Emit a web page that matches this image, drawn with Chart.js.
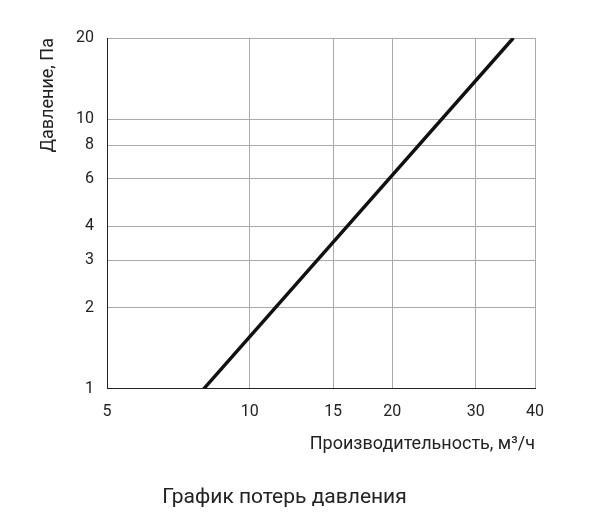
<!DOCTYPE html>
<html>
<head>
<meta charset="utf-8">
<script src="https://cdn.jsdelivr.net/npm/chart.js@4"></script>
<style>
  body { margin: 0; background: #fff; }
  #wrap { width: 595px; height: 526px; }
</style>
</head>
<body>
<div id="wrap"><canvas id="chart" width="595" height="526"></canvas></div>
<script>
// flow (m3/h) vs pressure loss (Pa)
const flow = [8, 20, 36];
const pressure = [1, 6.2, 20];
const xTicks = [5, 10, 15, 20, 30, 40];
const yTicks = [1, 2, 3, 4, 6, 8, 10, 20];

const font = { family: "Roboto, 'Liberation Sans', sans-serif", size: 16 };
const titleFont = { family: font.family, size: 18 };

const ctx = document.querySelector("#chart").getContext("2d");
new Chart(ctx, {
  type: "line",
  data: {
    datasets: [{
      data: flow.map((x, i) => ({ x: x, y: pressure[i] })),
      borderColor: "#111",
      borderWidth: 3.5,
      pointRadius: 0,
      tension: 0,
    }],
  },
  options: {
    responsive: false,
    animation: false,
    layout: { padding: { top: 38, right: 60, left: 34, bottom: 0 } },
    plugins: {
      legend: { display: false },
      tooltip: { enabled: false },
      title: {
        display: true,
        position: "bottom",
        text: "График потерь давления",
        color: "#222",
        font: { family: font.family, size: 21, weight: "normal" },
        padding: { top: 26, bottom: 16 },
      },
    },
    scales: {
      x: {
        type: "logarithmic",
        min: 5,
        max: 40,
        afterBuildTicks: (s) => { s.ticks = xTicks.map((v) => ({ value: v })); },
        afterFit: (s) => { s.height = 70; },
        ticks: { color: "#222", font: font, callback: (v) => v, maxRotation: 0, padding: 14 },
        grid: { color: "#aaa", drawTicks: false },
        border: { color: "#222", width: 1 },
        title: {
          display: true,
          align: "end",
          text: "Производительность, м³/ч",
          color: "#222",
          font: titleFont,
          padding: { top: 2 },
        },
      },
      y: {
        type: "logarithmic",
        min: 1,
        max: 20,
        afterBuildTicks: (s) => { s.ticks = yTicks.map((v) => ({ value: v })); },
        afterFit: (s) => { s.width = 73; },
        ticks: { color: "#222", font: font, callback: (v) => v, padding: 13 },
        grid: { color: "#aaa", drawTicks: false },
        border: { color: "#222", width: 1 },
        title: {
          display: true,
          align: "end",
          text: "Давление, Па",
          color: "#222",
          font: titleFont,
          padding: { bottom: 0 },
        },
      },
    },
  },
});
</script>
</body>
</html>
